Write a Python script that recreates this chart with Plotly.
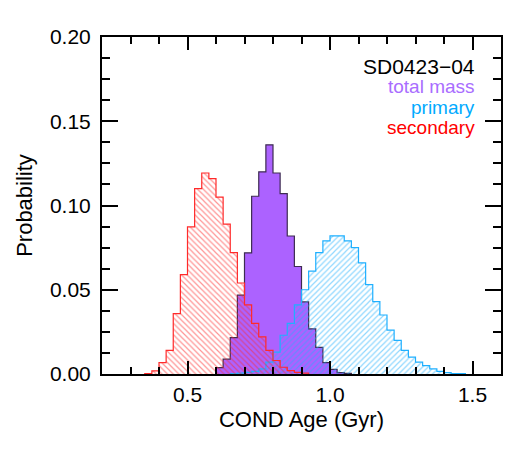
import numpy as np
import plotly.graph_objects as go

bin_width = 0.025

# total mass (left edges start at 0.600)
total_start = 0.600
total_prob = [0.0038, 0.0088, 0.0216, 0.0468, 0.0719, 0.1055, 0.1200, 0.1360,
              0.1193, 0.1070, 0.0819, 0.0638, 0.0428, 0.0268, 0.0158, 0.0068,
              0.0028, 0.0008, 0.0004]

# primary (left edges start at 0.650)
primary_start = 0.650
primary_prob = [0.0003, 0.0005, 0.0010, 0.0015, 0.0030, 0.0070, 0.0130, 0.0230,
                0.0300, 0.0410, 0.0500, 0.0610, 0.0720, 0.0790, 0.0820, 0.0820,
                0.0790, 0.0750, 0.0660, 0.0530, 0.0430, 0.0350, 0.0260, 0.0200,
                0.0140, 0.0100, 0.0070, 0.0050, 0.0030, 0.0016, 0.0008, 0.0003,
                0.0002]

# secondary (left edges start at 0.350)
secondary_start = 0.350
secondary_prob = [0.0003, 0.0018, 0.0068, 0.0140, 0.0358, 0.0590, 0.0873, 0.1100,
                  0.1193, 0.1160, 0.1050, 0.0890, 0.0720, 0.0540, 0.0410, 0.0300,
                  0.0220, 0.0140, 0.0080, 0.0040, 0.0020, 0.0010, 0.0005]

x_ticks = [0.5, 1.0, 1.5]
x_ticklabels = ["0.5", "1.0", "1.5"]
y_ticks = [0.0, 0.05, 0.10, 0.15, 0.20]
y_ticklabels = ["0.00", "0.05", "0.10", "0.15", "0.20"]

object_name = "SD0423\u221204"
legend_labels = ["total mass", "primary", "secondary"]


def step_xy(start, probs):
    edges = start + bin_width * np.arange(len(probs) + 1)
    xs = [edges[0]] + list(edges) + [edges[-1]]
    ys = [0.0] + list(probs) + [probs[-1], 0.0]
    return xs, ys


PURPLE_FILL = "#ac62ff"
PURPLE_LINE = "#3e2c52"
BLUE = "#1fb0ff"
RED = "#ff2a2a"

fig = go.Figure()

x, y = step_xy(total_start, total_prob)
fig.add_trace(go.Scatter(x=x, y=y, mode="lines", line=dict(shape="hv", color=PURPLE_LINE, width=1.2),
                         fill="tozeroy", fillcolor=PURPLE_FILL, showlegend=False, hoverinfo="skip"))

x, y = step_xy(primary_start, primary_prob)
fig.add_trace(go.Scatter(x=x, y=y, mode="lines", line=dict(shape="hv", color=BLUE, width=1.2),
                         fill="tozeroy", fillcolor="rgba(0,0,0,0)",
                         fillpattern=dict(shape="/", fgcolor=BLUE, bgcolor="rgba(0,0,0,0)",
                                          size=4, solidity=0.3),
                         showlegend=False, hoverinfo="skip"))

x, y = step_xy(secondary_start, secondary_prob)
fig.add_trace(go.Scatter(x=x, y=y, mode="lines", line=dict(shape="hv", color=RED, width=1.2),
                         fill="tozeroy", fillcolor="rgba(0,0,0,0)",
                         fillpattern=dict(shape="\\", fgcolor=RED, bgcolor="rgba(0,0,0,0)",
                                          size=4, solidity=0.3),
                         showlegend=False, hoverinfo="skip"))

FONT = "Liberation Sans, Arial, sans-serif"

fig.update_layout(
    width=525, height=450,
    margin=dict(l=102, r=24, t=37, b=76),
    paper_bgcolor="white", plot_bgcolor="white",
    font=dict(family=FONT, color="black"),
    xaxis=dict(range=[0.2, 1.6], showgrid=False, zeroline=False,
               showline=True, linecolor="black", linewidth=2, mirror="ticks",
               ticks="inside", ticklen=13, tickwidth=2, tickcolor="black",
               tickvals=x_ticks, ticktext=x_ticklabels,
               tickfont=dict(size=21, family=FONT), ticklabelstandoff=1,
               minor=dict(dtick=0.1, tick0=0.0, ticks="inside", ticklen=7, tickwidth=2, tickcolor="black"),
               title=dict(text="COND Age (Gyr)", font=dict(size=22, family=FONT), standoff=6)),
    yaxis=dict(range=[0, 0.2], showgrid=False, zeroline=False,
               showline=True, linecolor="black", linewidth=2, mirror="ticks",
               ticks="inside", ticklen=16, tickwidth=2, tickcolor="black",
               tickvals=y_ticks, ticktext=y_ticklabels,
               tickfont=dict(size=21, family=FONT), ticklabelstandoff=5,
               minor=dict(dtick=0.0125, tick0=0.0, ticks="inside", ticklen=8, tickwidth=2, tickcolor="black"),
               title=dict(text="Probability", font=dict(size=22, family=FONT), standoff=11)),
)

legend_colors = ["#a96dff", "#00aaff", "#ff0000"]
fig.add_annotation(x=0.94, y=0.912, xref="paper", yref="paper", xanchor="right", yanchor="middle",
                   text=object_name, showarrow=False, font=dict(size=21, color="black", family=FONT))
for i, (lab, col) in enumerate(zip(legend_labels, legend_colors)):
    fig.add_annotation(x=0.94, y=0.852 - i * 0.06, xref="paper", yref="paper", xanchor="right",
                       yanchor="middle", text=lab, showarrow=False,
                       font=dict(size=19, color=col, family=FONT))

fig.write_html("out.html")
